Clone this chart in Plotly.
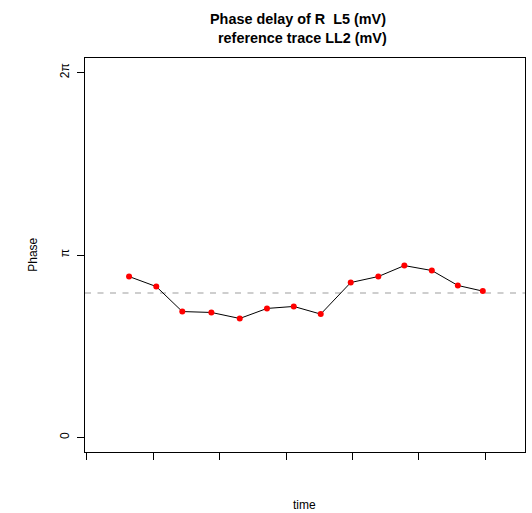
import numpy as np
import plotly.graph_objects as go

# ---- data ----
time = [3.17, 5.22, 7.18, 9.37, 11.51, 13.56, 15.58, 17.61, 19.87, 21.95, 23.91, 25.98, 27.94, 29.82]
phase_pi = [0.882, 0.827, 0.690, 0.685, 0.652, 0.707, 0.718, 0.676, 0.849, 0.882, 0.942, 0.915, 0.833, 0.802]
ref_phase_pi = 0.791
x_ticks = [0, 5, 10, 15, 20, 25, 30]
y_tick_pi = [0, 1, 2]
y_tick_text = ["0", "π", "2π"]
title_lines = ["Phase delay of R\u00a0\u00a0L5 (mV)", "reference trace LL2 (mV)"]
x_label = "time"
y_label = "Phase"

phase = [v * np.pi for v in phase_pi]
ref_phase = ref_phase_pi * np.pi
y_ticks = [v * np.pi for v in y_tick_pi]

W, H = 532, 513
L, R, T, B = 85, 7, 57.5, 61

fig = go.Figure()
fig.add_trace(go.Scatter(
    x=time, y=phase, mode="lines+markers",
    line=dict(color="black", width=1),
    marker=dict(color="#FF0000", size=6, line=dict(width=0)),
    showlegend=False, hoverinfo="skip"))

fig.add_shape(type="line", xref="paper", yref="y", x0=0, x1=1,
              y0=ref_phase, y1=ref_phase,
              line=dict(color="#BEBEBE", width=1.5, dash="6px,6.5px"), layer="below")

font_family = "Liberation Sans, Arial, Helvetica, sans-serif"

fig.update_layout(
    width=W, height=H,
    margin=dict(l=L, r=R, t=T, b=B, pad=0),
    paper_bgcolor="white", plot_bgcolor="white",
    font=dict(family=font_family, size=12, color="black"),
    xaxis=dict(range=[-0.15, 33.0], tickvals=x_ticks, showticklabels=False,
               ticks="outside", ticklen=7, tickwidth=1, tickcolor="black",
               showline=True, linecolor="black", linewidth=1, mirror=True,
               showgrid=False, zeroline=False, fixedrange=True),
    yaxis=dict(range=[-0.08 * np.pi, 2.08 * np.pi], tickvals=y_ticks, ticktext=y_tick_text,
               tickangle=-90, ticks="outside", ticklen=7, tickwidth=1, tickcolor="black",
               ticklabelstandoff=3,
               showline=True, linecolor="black", linewidth=1, mirror=True,
               showgrid=False, zeroline=False, fixedrange=True,
               tickfont=dict(size=12)),
)

ann = [
    dict(text="<b>%s</b>" % title_lines[0], x=297.5, y=18, size=14.4),
    dict(text="<b>%s</b>" % title_lines[1], x=302, y=37, size=14.4),
    dict(text=x_label, x=304.5, y=505, size=12),
    dict(text=y_label, x=33.5, y=255, size=12, angle=-90),
]
for a in ann:
    fig.add_annotation(
        text=a["text"], xref="paper", yref="paper",
        x=(a["x"] - L) / (W - L - R), y=(H - B - a["y"]) / (H - T - B),
        xanchor="center", yanchor="middle", showarrow=False,
        textangle=a.get("angle", 0),
        font=dict(size=a["size"], family=font_family, color="black"))

fig.write_html("out.html")
